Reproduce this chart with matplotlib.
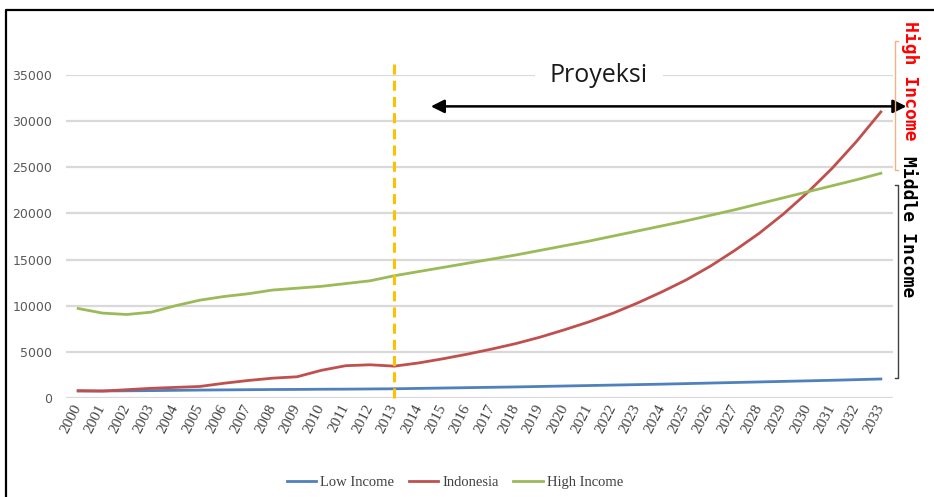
"""
Income per capita projection: Indonesia vs Low / High Income groups.
"""
import matplotlib.pyplot as plt
from matplotlib.lines import Line2D

years = list(range(2000, 2034))
low_income = [750, 760, 780, 800, 830, 860, 880, 900, 920, 930, 950, 960, 980, 1000,
              1040, 1080, 1120, 1160, 1200, 1250, 1300, 1350, 1400, 1450, 1500, 1560,
              1620, 1680, 1740, 1800, 1860, 1920, 1990, 2060]
indonesia = [800, 750, 900, 1050, 1150, 1250, 1600, 1900, 2150, 2300, 3000, 3500, 3600, 3450,
             3800, 4250, 4750, 5300, 5900, 6600, 7400, 8250, 9200, 10300, 11500, 12800,
             14300, 16000, 17850, 19950, 22300, 24900, 27800, 31000]
high_income = [9700, 9200, 9050, 9300, 10000, 10600, 11000, 11300, 11700, 11900, 12100, 12400,
               12700, 13250, 13700, 14150, 14600, 15050, 15500, 16000, 16500, 17000, 17550,
               18100, 18650, 19200, 19800, 20400, 21050, 21700, 22350, 23000, 23650, 24350]
y_ticks = [0, 5000, 10000, 15000, 20000, 25000, 30000, 35000]
proj_start = 2013

W, H = 934, 497


def fx(px):
    return px / W


def fy(py):
    return 1 - py / H


fig = plt.figure(figsize=(W / 100, H / 100), dpi=100)
ax = fig.add_axes([fx(66), fy(398), (893 - 66) / W, (398 - 75) / H])

ax.plot(years, low_income, color='#4F81BD', lw=2.0, label='Low Income', zorder=3)
ax.plot(years, indonesia, color='#C0504D', lw=2.0, label='Indonesia', zorder=3)
ax.plot(years, high_income, color='#9BBB59', lw=2.0, label='High Income', zorder=3)

ax.set_xlim(1999.5, 2033.5)
ax.set_ylim(0, 35000)
ax.set_yticks(y_ticks)
ax.set_yticklabels([str(v) for v in y_ticks], fontsize=9, color='#595959')
ax.set_xticks(years)
ax.set_xticklabels([str(y) for y in years], rotation=63, ha='right', va='center',
                   rotation_mode='anchor', fontsize=11, color='#404040',
                   family=['Liberation Serif', 'DejaVu Serif'])
ax.tick_params(length=0)
ax.tick_params(axis='y', pad=10)
ax.tick_params(axis='x', pad=5)
ax.yaxis.grid(True, color='#d9d9d9', lw=1.6)
ax.set_axisbelow(True)
for s in ax.spines.values():
    s.set_visible(False)

# projection start marker
ax.plot([proj_start, proj_start], [0, 36700], color='#FFC000', lw=2.2,
        dashes=(3.3, 2.0), clip_on=False, zorder=4)

ax.text(2021.4, 35000, 'Proyeksi', fontsize=18, ha='center', va='center',
        family=['Open Sans', 'DejaVu Sans'], color='#1a1a1a', zorder=5,
        bbox=dict(boxstyle='square,pad=0.6', fc='white', ec='none'))
ax.annotate('', xy=(2034.05, 31600), xytext=(2014.5, 31600),
            arrowprops=dict(arrowstyle='<|-|>', color='black', lw=1.8,
                            mutation_scale=20, shrinkA=0, shrinkB=0),
            annotation_clip=False, zorder=6)

# income band labels on the right
fig.text(fx(910), fy(81), 'High Income', rotation=-90, ha='center', va='center',
         color='#FF0000', fontsize=13, fontweight='bold',
         family=['DejaVu Sans Mono', 'Liberation Mono'])
fig.text(fx(908), fy(227), 'Middle Income', rotation=-90, ha='center', va='center',
         color='black', fontsize=13, fontweight='bold',
         family=['DejaVu Sans Mono', 'Liberation Mono'])
fig.add_artist(Line2D([fx(898), fx(895), fx(895), fx(898)], [fy(41), fy(41), fy(170), fy(170)],
                      transform=fig.transFigure, color='#F4B183', lw=1))
fig.add_artist(Line2D([fx(895), fx(898), fx(898), fx(895)], [fy(185), fy(185), fy(378), fy(378)],
                      transform=fig.transFigure, color='#404040', lw=1))

# outer frame (left and top)
fig.add_artist(Line2D([fx(6), fx(6), 1], [0, fy(10), fy(10)],
                      transform=fig.transFigure, color='black', lw=1.6))

fig.legend(loc='center', bbox_to_anchor=(fx(455), fy(482)), ncol=3, frameon=False,
           prop={'family': ['Liberation Serif', 'DejaVu Serif'], 'size': 10.5},
           handlelength=2.0, handletextpad=0.3, columnspacing=1.0, labelcolor='#404040')

fig.savefig('out.png', dpi=100)
